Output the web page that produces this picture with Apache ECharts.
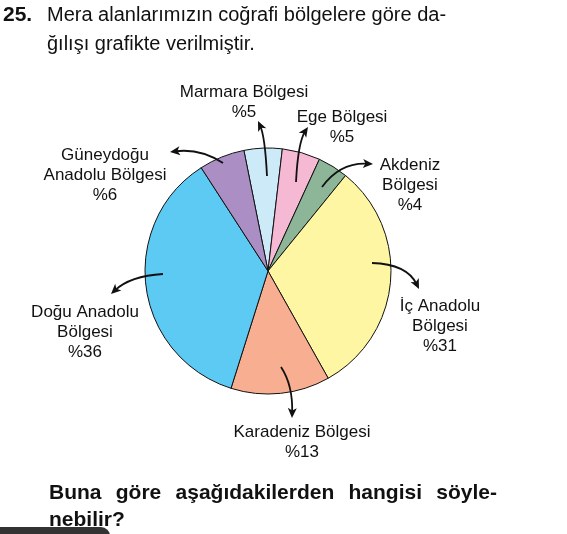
<!DOCTYPE html>
<html>
<head>
<meta charset="utf-8">
<script src="https://cdn.jsdelivr.net/npm/echarts@6/dist/echarts.min.js"></script>
<style>
    html, body { margin: 0; padding: 0; background: #fff; }
    #chart { width: 567px; height: 534px; }
</style>
</head>
<body>
<div id="chart"></div>
<script>
const regions = ["Marmara Bölgesi", "Ege Bölgesi", "Akdeniz\nBölgesi", "İç Anadolu\nBölgesi", "Karadeniz Bölgesi", "Doğu Anadolu\nBölgesi", "Güneydoğu\nAnadolu Bölgesi"];
const shares = [5, 5, 4, 31, 13, 36, 6];
const sliceColors = ["#cdeaf8", "#f6b9d3", "#8db597", "#fef6a2", "#f8ae90", "#5ccaf3", "#aa8ec4"];

// where each label block sits, and the curved arrow from slice to label (start, control, tip)
const labelPos = [[244, 102], [342, 127], [410, 185], [440, 326], [302, 442], [85, 332], [105, 175]];
const arrows = [
    [[267, 176], [265, 136], [258, 121]],
    [[296, 182], [298, 142], [308, 127]],
    [[322, 187], [340, 162], [373, 164]],
    [[372, 263], [407, 264], [419, 289]],
    [[281, 367], [293, 385], [292, 418]],
    [[163, 274], [130, 276], [111, 294]],
    [[223, 163], [200, 148], [170, 152]],
];

const chart = echarts.init(document.getElementById("chart"));

// justified text line (the question prompt is set in a justified column)
const measureCtx = document.createElement("canvas").getContext("2d");
function justifiedLine(text, font, x0, x1, y) {
    measureCtx.font = font;
    const words = text.split(" ");
    const widths = words.map((w) => measureCtx.measureText(w).width);
    const used = widths.reduce((a, b) => a + b, 0);
    const gap = (x1 - x0 - used) / (words.length - 1);
    let x = x0;
    return words.map((w, i) => {
        const el = { type: "text", x: x, y: y, style: { text: w, font: font, fill: "#111", textVerticalAlign: "middle" } };
        x += widths[i] + gap;
        return el;
    });
}
function plainLine(text, font, x, y) {
    return { type: "text", x: x, y: y, style: { text: text, font: font, fill: "#111", textVerticalAlign: "middle" } };
}

// each arrow: quadratic curve plus a filled head at the tip
const arrowEls = [];
arrows.forEach((pts) => {
    const [p0, c, p2] = pts;
    const dx = p2[0] - c[0], dy = p2[1] - c[1];
    const len = Math.sqrt(dx * dx + dy * dy);
    const ux = dx / len, uy = dy / len;
    const bx = p2[0] - ux * 10, by = p2[1] - uy * 10;
    arrowEls.push({
        type: "bezierCurve",
        shape: { x1: p0[0], y1: p0[1], cpx1: c[0], cpy1: c[1], x2: p2[0] - ux * 5, y2: p2[1] - uy * 5 },
        style: { stroke: "#111", lineWidth: 1.8, fill: null },
        z: 100,
    });
    arrowEls.push({
        type: "polygon",
        shape: { points: [[p2[0], p2[1]], [bx - uy * 4.5, by + ux * 4.5], [bx + ux * 2.5, by + uy * 2.5], [bx + uy * 4.5, by - ux * 4.5]] },
        style: { fill: "#111" },
        z: 100,
    });
});

const titleFont = "20px 'Liberation Sans'";
const boldFont = "bold 21px 'Liberation Sans'";

chart.setOption({
    animation: false,
    graphic: [
        plainLine("25.", boldFont, 3, 15),
        plainLine("Mera alanlarımızın coğrafi bölgelere göre da-", titleFont, 47, 15),
        plainLine("ğılışı grafikte verilmiştir.", titleFont, 47, 44),
        ...justifiedLine("Buna göre aşağıdakilerden hangisi söyle-", boldFont, 49, 497, 493),
        plainLine("nebilir?", boldFont, 49, 520),
        { type: "rect", shape: { x: 0, y: 527, width: 110, height: 20, r: [0, 9, 0, 0] }, style: { fill: "#333" }, z: 50 },
        ...arrowEls,
    ],
    series: [
        {
            type: "pie",
            center: [268, 271],
            radius: 123,
            startAngle: 101.3,
            clockwise: true,
            silent: true,
            color: sliceColors,
            itemStyle: { borderColor: "#111", borderWidth: 1 },
            label: {
                show: true,
                formatter: (p) => p.name + "\n%" + p.value,
                fontFamily: "Liberation Sans",
                fontSize: 17,
                lineHeight: 20,
                color: "#111",
                align: "center",
                overflow: "none",
            },
            labelLine: { show: false },
            labelLayout: (params) => ({
                x: labelPos[params.dataIndex][0],
                y: labelPos[params.dataIndex][1],
                align: "center",
                verticalAlign: "middle",
            }),
            data: regions.map((name, i) => ({ name: name, value: shares[i] })),
        },
    ],
});
</script>
</body>
</html>
